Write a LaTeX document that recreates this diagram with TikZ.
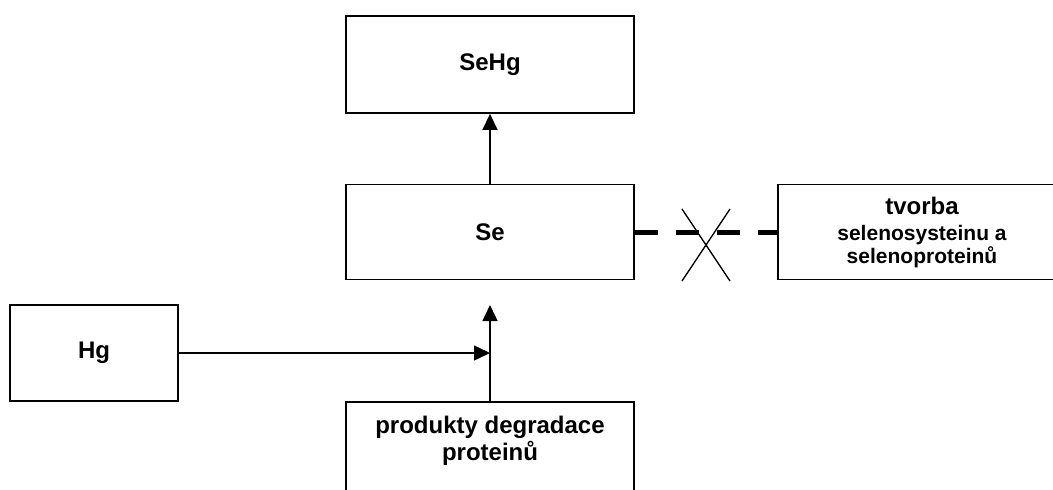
\documentclass[tikz,border=0pt]{standalone}
\usepackage{fontspec}
\setmainfont{Liberation Sans}
\usetikzlibrary{arrows.meta,calc}
\begin{document}
\begin{tikzpicture}[x=1pt,y=-1pt,
  box/.style={draw, line width=1.8pt, minimum width=288pt, minimum height=95pt,
    inner sep=0pt, align=center, font=\bfseries\fontsize{24}{27}\selectfont},
  plainbox/.style={draw, line width=1.8pt, minimum width=288pt, minimum height=96pt, inner sep=0pt},
  label/.style={align=center, inner sep=0pt, font=\bfseries\fontsize{24}{27}\selectfont},
  link/.style={line width=1.5pt, -{Triangle[length=16pt,width=15pt]}},
  blocked/.style={line width=5pt, dash pattern=on 23pt off 18pt},
  cross/.style={line width=1.3pt}]
\useasboundingbox (0,0) rectangle (1053,490);
\clip (0,0) rectangle (1053,490);
\fill[white] (0,0) rectangle (1053,490);

% boxes
\node[box, minimum height=97pt] (sehg) at (490,64.5) {SeHg};
\node[box] (se) at (490,232) {Se};
\node[box] (tvorba) at (922,232)
  {tvorba\\[-1pt]{\fontsize{21}{23}\selectfont selenosysteinu a}\\[-4pt]{\fontsize{21}{23}\selectfont selenoproteinů}};
\node[box, minimum width=168pt, minimum height=96pt] (hg) at (94,353) {Hg};
\node[plainbox] (prod) at (490,450) {};
\node[label] (prodtext) at (490,441) {produkty degradace\\proteinů};

% connectors
\coordinate (tip) at (490,305);
\coordinate (join) at (490,353);
\draw[link] (se.north) -- (sehg.south);
\draw[link] (prod.north) -- (tip);
\draw[link] (hg.east) -- (join);

% interrupted link with a cross
\draw[blocked] (se.east) -- (tvorba.west);
\coordinate (xc) at (706,245);
\draw[cross] ($(xc)+(-24,-36)$) -- ($(xc)+(24,36)$);
\draw[cross] ($(xc)+(24,-36)$) -- ($(xc)+(-24,36)$);
\end{tikzpicture}
\end{document}
